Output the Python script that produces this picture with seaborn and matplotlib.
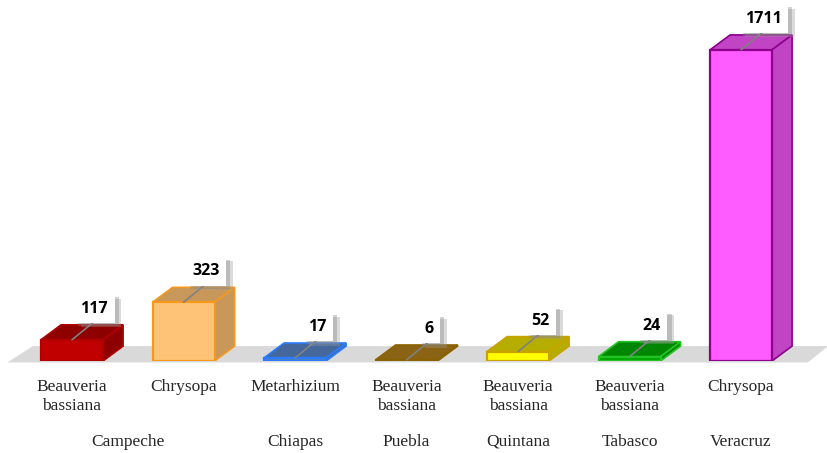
import numpy as np
import pandas as pd
import matplotlib
matplotlib.use("Agg")
import matplotlib.pyplot as plt
import matplotlib.transforms as mtransforms
import matplotlib.patheffects as pe
from matplotlib.patches import Polygon
import seaborn as sns

states = ["Campeche", "Campeche", "Chiapas", "Puebla", "Quintana", "Tabasco", "Veracruz"]
species = ["Beauveria bassiana", "Chrysopa", "Metarhizium", "Beauveria bassiana",
           "Beauveria bassiana", "Beauveria bassiana", "Chrysopa"]
values = [117, 323, 17, 6, 52, 24, 1711]

front_colors = ["#c00000", "#ffc378", "#4f7fc4", "#a57a12", "#ffff00", "#00a300", "#ff5cff"]
shade_colors = ["#8e0000", "#c8975a", "#44689c", "#8a6414", "#b5ad00", "#008600", "#c044c4"]
edge_colors = ["#b00000", "#f5981c", "#2a7bff", "#8a6200", "#c9a200", "#22c322", "#8c008c"]

df = pd.DataFrame({"key": [f"{s}|{i}" for i, s in enumerate(species)],
                   "value": values})

sns.set_style("white")
plt.rcParams["font.family"] = ["Liberation Serif", "DejaVu Serif"]

fig = plt.figure(figsize=(8.27, 4.53), dpi=100)
ax = fig.add_axes([0, 92 / 453, 1, 361 / 453])

sns.barplot(data=df, x="key", y="value", hue="key", palette=front_colors,
            width=0.556, legend=False, ax=ax, saturation=1, zorder=3)

ax.set_xlim(-0.646, 6.771)
ax.set_ylim(0, 1985)

# 3D depth offsets in data units
dx = 0.18
dy = 82

# floor
floor = Polygon([(-0.58, -8), (6.6, -8), (6.6 + dx, dy), (-0.58 + dx + 0.05, dy)],
                closed=True, facecolor="#d9d9d9", edgecolor="none", zorder=1,
                clip_on=False)
ax.add_patch(floor)

for i, p in enumerate(ax.patches[:len(values)]):
    x0 = p.get_x()
    w = p.get_width()
    h = p.get_height()
    p.set_edgecolor(edge_colors[i])
    p.set_linewidth(1.6)
    top = Polygon([(x0, h), (x0 + w, h), (x0 + w + dx, h + dy), (x0 + dx, h + dy)],
                  closed=True, facecolor=shade_colors[i], edgecolor=edge_colors[i],
                  linewidth=1.2, zorder=2.9)
    side = Polygon([(x0 + w, 0), (x0 + w + dx, dy), (x0 + w + dx, h + dy), (x0 + w, h)],
                   closed=True, facecolor=shade_colors[i], edgecolor=edge_colors[i],
                   linewidth=1.2, zorder=2.9)
    ax.add_patch(top)
    ax.add_patch(side)

    xc = x0 + w / 2
    ax.plot([xc, xc + 0.19], [h, h + 95], color="#808080", lw=1.2, zorder=4)
    t = ax.text(xc + 0.2, h + 170, str(values[i]), ha="center", va="center",
                fontsize=11.5, fontweight="bold", family="Open Sans", color="black",
                zorder=5,
                bbox=dict(boxstyle="square,pad=0.4", facecolor="white", edgecolor="none"))
    # soft gray shadow behind the label box
    t.get_bbox_patch().set_path_effects([
        pe.SimplePatchShadow(offset=(5, -3), shadow_rgbFace="#9a9a9a", alpha=0.35),
        pe.SimplePatchShadow(offset=(3, -2), shadow_rgbFace="#808080", alpha=0.35),
        pe.Normal()])

ax.set_xticks(range(len(values)))
ax.set_xticklabels([s.replace(" ", "\n") for s in species], fontsize=12.5,
                   linespacing=1.25)
ax.tick_params(axis="x", length=0, pad=13)
ax.set_yticks([])
ax.set_xlabel("")
ax.set_ylabel("")
sns.despine(ax=ax, left=True, bottom=True)

# state group labels
trans = mtransforms.blended_transform_factory(ax.transData, fig.transFigure)
seen = []
for st in states:
    if st in seen:
        continue
    seen.append(st)
    pos = [i for i, s in enumerate(states) if s == st]
    ax.text(np.mean(pos), 7 / 453, st, ha="center", va="baseline", fontsize=12.5,
            transform=trans)

fig.savefig("out.png", dpi=100)
